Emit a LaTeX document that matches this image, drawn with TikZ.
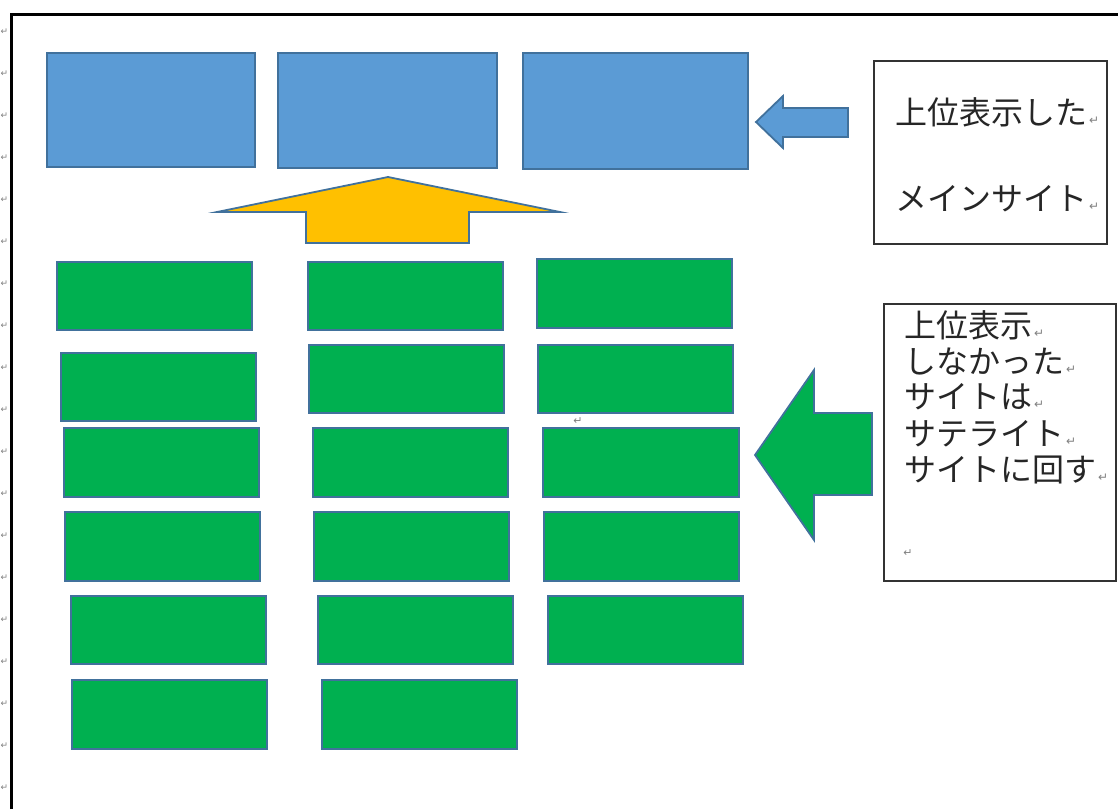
\documentclass[tikz,border=0pt]{standalone}
\usepackage{fontspec}
\newfontfamily\jpfont{Noto Sans CJK JP}
\newfontfamily\symfont{DejaVu Sans}
\usetikzlibrary{fit}
\definecolor{boxblue}{HTML}{5B9BD5}
\definecolor{edgeblue}{HTML}{41719C}
\definecolor{boxgreen}{HTML}{00B050}
\definecolor{boxyellow}{HTML}{FFC000}
\definecolor{markgray}{HTML}{7F7F7F}
\newcommand\retmark{{\symfont\fontsize{12}{12}\selectfont\color{markgray}\,↵}}
\tikzset{
  shapebox/.style={draw=edgeblue, line width=1.8pt, inner sep=0pt, outer sep=0pt},
  bluebox/.style={shapebox, fill=boxblue},
  greenbox/.style={shapebox, fill=boxgreen},
  bluearrow/.style={draw=edgeblue, line width=1.8pt, fill=boxblue, line join=miter},
  greenarrow/.style={draw=edgeblue, line width=1.8pt, fill=boxgreen, line join=miter},
  yellowarrow/.style={draw=edgeblue, line width=1.8pt, fill=boxyellow, line join=miter},
  textbox/.style={draw=black!80, line width=1.3pt, inner sep=0pt, outer sep=0pt},
  jptext/.style={font=\jpfont\fontsize{32}{36}\selectfont, text=black!85, anchor=base west, inner sep=0pt},
  margmark/.style={font=\symfont\fontsize{9}{9}\selectfont, text=markgray, inner sep=0pt},
}
\begin{document}
\begin{tikzpicture}[x=1pt, y=-1pt]
\useasboundingbox (0,0) rectangle (1118,809);
% page frame
\draw[line width=3pt] (11.5,809) -- (11.5,14.5) -- (1118,14.5);
% margin paragraph marks
\foreach \k in {0,...,18} {
  \node[margmark] (m\k) at (4.5,{32+42*\k}) {↵};
}
% blue boxes
\node[bluebox, fit={(47,53) (255,167)}] (b1) {};
\node[bluebox, fit={(278,53) (497,168)}] (b2) {};
\node[bluebox, fit={(523,53) (748,169)}] (b3) {};
% blue arrow
\draw[bluearrow] (756,122) -- (783,96) -- (783,108) -- (848,108) -- (848,137) -- (783,137) -- (783,148) -- cycle;
% yellow arrow
\draw[yellowarrow] (388,177) -- (560,212) -- (469,212) -- (469,243) -- (306,243) -- (306,212) -- (217,212) -- cycle;
% green boxes column 1
\node[greenbox, fit={(57,262) (252,330)}] (g11) {};
\node[greenbox, fit={(61,353) (256,421)}] (g12) {};
\node[greenbox, fit={(64,428) (259,497)}] (g13) {};
\node[greenbox, fit={(65,512) (260,581)}] (g14) {};
\node[greenbox, fit={(71,596) (266,664)}] (g15) {};
\node[greenbox, fit={(72,680) (267,749)}] (g16) {};
% column 2
\node[greenbox, fit={(308,262) (503,330)}] (g21) {};
\node[greenbox, fit={(309,345) (504,413)}] (g22) {};
\node[greenbox, fit={(313,428) (508,497)}] (g23) {};
\node[greenbox, fit={(314,512) (509,581)}] (g24) {};
\node[greenbox, fit={(318,596) (513,664)}] (g25) {};
\node[greenbox, fit={(322,680) (517,749)}] (g26) {};
% column 3
\node[greenbox, fit={(537,259) (732,328)}] (g31) {};
\node[greenbox, fit={(538,345) (733,413)}] (g32) {};
\node[greenbox, fit={(543,428) (739,497)}] (g33) {};
\node[greenbox, fit={(544,512) (739,581)}] (g34) {};
\node[greenbox, fit={(548,596) (743,664)}] (g35) {};
% stray paragraph mark
\node[margmark, font=\symfont\fontsize{11}{11}\selectfont] (pm) at (578,421) {↵};
% green arrow
\draw[greenarrow] (755,455) -- (814,370) -- (814,413) -- (872,413) -- (872,495) -- (814,495) -- (814,540) -- cycle;
% text box 1
\node[textbox, fit={(874,61) (1107,244)}] (t1) {};
\node[jptext] (t1a) at (895,124) {上位表示した\retmark};
\node[jptext] (t1b) at (895,210) {メインサイト\retmark};
% text box 2
\node[textbox, fit={(884,304) (1116,581)}] (t2) {};
\node[jptext] (t2a) at (904,337) {上位表示\retmark};
\node[jptext] (t2b) at (904,373) {しなかった\retmark};
\node[jptext] (t2c) at (904,408) {サイトは\retmark};
\node[jptext] (t2d) at (904,445) {サテライト\retmark};
\node[jptext] (t2e) at (904,481) {サイトに回す\retmark};
\node[margmark, font=\symfont\fontsize{11}{11}\selectfont] (t2f) at (908,553) {↵};
\end{tikzpicture}
\end{document}
